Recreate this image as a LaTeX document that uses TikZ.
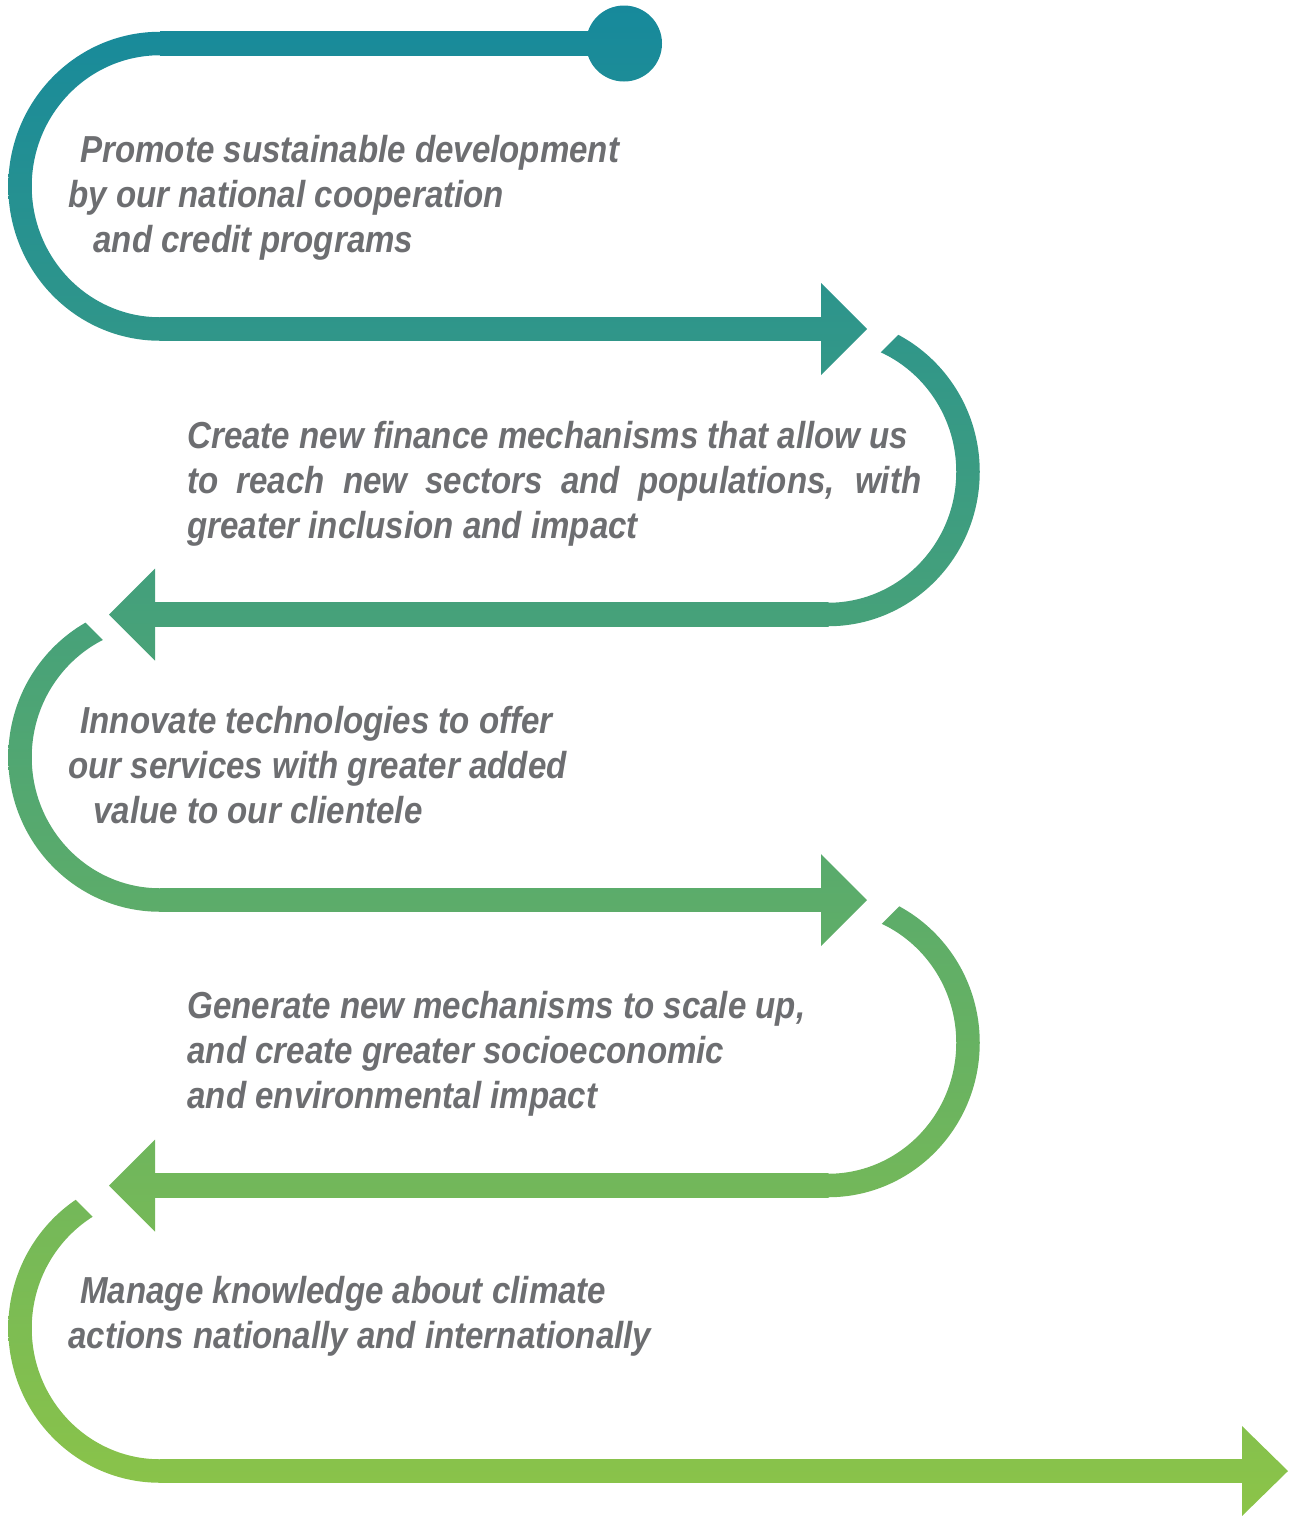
\documentclass[tikz,border=0pt]{standalone}
\usepackage{fontspec}
\setmainfont{Liberation Sans}[FakeStretch=0.88]
\definecolor{topc}{RGB}{22,137,156}
\definecolor{botc}{RGB}{140,196,72}
\definecolor{txtc}{RGB}{109,110,113}
\newcommand\gpiece[1]{\begin{scope}\clip #1; \shade[gradbox] (0,0) rectangle (1298,-1516);\end{scope}}
\newcommand\gcut[2]{\begin{scope}\clip #1; \clip #2; \shade[gradbox] (0,0) rectangle (1298,-1516);\end{scope}}
\newcommand\rhalf[2]{(#1,#2+154.5) arc[start angle=90,end angle=-90,x radius=151.75,y radius=154.5] -- (#1,#2-131) arc[start angle=-90,end angle=90,x radius=128.25,y radius=131] -- cycle}
\newcommand\lhalf[2]{(#1,#2+154.5) arc[start angle=90,end angle=270,x radius=151.75,y radius=154.5] -- (#1,#2-131) arc[start angle=270,end angle=90,x radius=128.25,y radius=131] -- cycle}
\begin{document}
\begin{tikzpicture}[x=0.5pt,y=0.5pt,
  gradbox/.style={top color=topc,bottom color=botc,draw=none},
  txt/.style={anchor=base west,inner sep=0pt,text=txtc,font=\fontsize{18.8}{22.6}\selectfont\bfseries\itshape}]
\useasboundingbox (0,0) rectangle (1298,-1516);
% start dot and top bar
\gpiece{(624,-43.5) circle[radius=38]}
\gpiece{(160,-31.75) rectangle (626,-55.25)}
% loop 1 (left)
\gpiece{\lhalf{160}{-186.25}}
\gpiece{(159.5,-317.25) rectangle (821.5,-340.75)}
\gpiece{(821,-283) -- (867,-329) -- (821,-375) -- cycle}
% loop 2 (right)
\gcut{(1233,0) -- (2000,0) -- (2000,-2000) -- (0,-2000) -- (0,-1233) -- cycle}{\rhalf{828}{-471.75}}
\gpiece{(154.5,-602.75) rectangle (828.5,-626.25)}
\gpiece{(155,-568.5) -- (109,-614.5) -- (155,-660.5) -- cycle}
% loop 3 (left)
\gcut{(-100,-437) -- (1100,-1637) -- (-100,-1637) -- cycle}{\lhalf{160}{-757.25}}
\gpiece{(159.5,-888.25) rectangle (821.5,-911.75)}
\gpiece{(821,-854) -- (867,-900) -- (821,-946) -- cycle}
% loop 4 (right)
\gcut{(1805.5,0) -- (3000,0) -- (3000,-3000) -- (0,-3000) -- (0,-1805.5) -- cycle}{\rhalf{828}{-1042.75}}
\gpiece{(154.5,-1173.75) rectangle (828.5,-1197.25)}
\gpiece{(155,-1139.5) -- (109,-1185.5) -- (155,-1231.5) -- cycle}
% loop 5 (left)
\gcut{(-100,-1024) -- (1100,-2224) -- (-100,-2224) -- cycle}{\lhalf{160}{-1328.25}}
\gpiece{(159.5,-1459.25) rectangle (1242.5,-1482.75)}
\gpiece{(1242,-1426) -- (1288,-1471) -- (1242,-1516) -- cycle}
% texts
\node[txt] (t1a) at (80,-162) {Promote sustainable development};
\node[txt] (t1b) at (68,-207) {by our national cooperation};
\node[txt] (t1c) at (93,-252) {and credit programs};
\node[txt] (t2a) at (187,-448) {Create new finance mechanisms that allow us};
\node[txt] (t2b) at (187,-493) {\makebox[367pt][s]{to reach new sectors and populations, with}};
\node[txt] (t2c) at (187,-538) {greater inclusion and impact};
\node[txt] (t3a) at (80,-733) {Innovate technologies to offer};
\node[txt] (t3b) at (68,-778) {our services with greater added};
\node[txt] (t3c) at (93,-823) {value to our clientele};
\node[txt] (t4a) at (187,-1018) {Generate new mechanisms to scale up,};
\node[txt] (t4b) at (187,-1063) {and create greater socioeconomic};
\node[txt] (t4c) at (187,-1108) {and environmental impact};
\node[txt] (t5a) at (80,-1303) {Manage knowledge about climate};
\node[txt] (t5b) at (68,-1348) {actions nationally and internationally};
\end{tikzpicture}
\end{document}
